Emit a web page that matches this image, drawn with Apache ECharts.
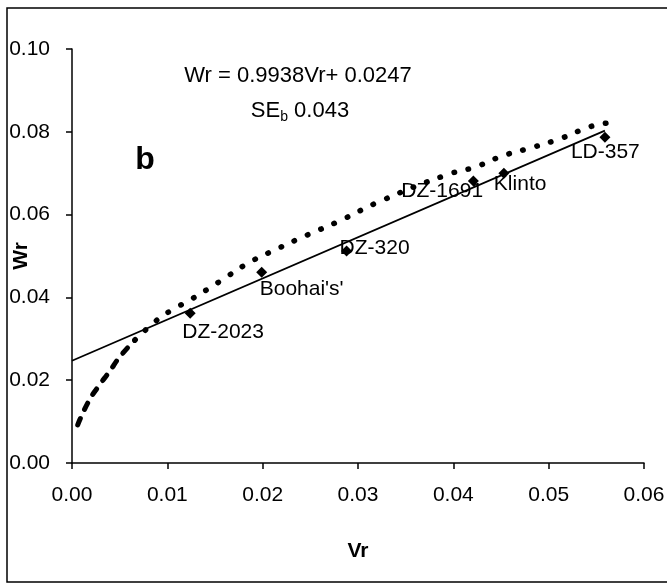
<!DOCTYPE html>
<html>
<head>
<meta charset="utf-8">
<script src="https://cdn.jsdelivr.net/npm/echarts@6/dist/echarts.min.js"></script>
<style>
  html, body { margin: 0; background: #fff; }
  #chart { width: 667px; height: 585px; }
</style>
</head>
<body>
<div id="chart"></div>
<script>
  // cultivars and their (Vr, Wr) values
  var cultivars = ['DZ-2023', "Boohai's'", 'DZ-320', 'DZ-1691', 'Klinto', 'LD-357']
  var vrValues = [0.0124, 0.0199, 0.0288, 0.0421, 0.0453, 0.0559]
  var wrValues = [0.0362, 0.0461, 0.0512, 0.0681, 0.0700, 0.0787]

  // regression line Wr = 0.9938Vr + 0.0247, end points
  var regVr = [0, 0.0559]
  var regWr = [0.0247, 0.0803]

  // limiting parabola (dotted curve)
  var curveVr = [0.0006, 0.0017, 0.0028, 0.0039, 0.0050, 0.0066, 0.0089, 0.0105, 0.0124, 0.0154,
    0.0185, 0.0215, 0.0247, 0.0278, 0.0326, 0.0393, 0.0423, 0.0452, 0.0484, 0.0514, 0.0543, 0.0561]
  var curveWr = [0.0092, 0.0147, 0.0186, 0.0220, 0.0256, 0.0297, 0.0345, 0.0370, 0.0394, 0.0437,
    0.0483, 0.0517, 0.0551, 0.0582, 0.0635, 0.0696, 0.0715, 0.0742, 0.0763, 0.0785, 0.0812, 0.0821]
  var curveSplit = 6 // first points are drawn as heavy dashes

  var xTicks = ['0.00', '0.01', '0.02', '0.03', '0.04', '0.05', '0.06']
  var yTicks = ['0.00', '0.02', '0.04', '0.06', '0.08', '0.10']

  // label placement relative to each point (px)
  var labelShift = [[-8, 19], [-2, 17], [-7, -3], [-72, 10], [-10, 11], [-34, 15]]

  var font = 'Liberation Sans, Arial, sans-serif'
  var chart = echarts.init(document.getElementById('chart'))

  function pairs(xs, ys) {
    return xs.map(function (x, i) { return [x, ys[i]] })
  }

  var points = vrValues.map(function (v, i) {
    var sym = 11
    return {
      value: [v, wrValues[i]],
      name: cultivars[i],
      label: {
        show: true,
        formatter: cultivars[i],
        position: [labelShift[i][0] + sym / 2, labelShift[i][1] + sym / 2],
        align: 'left',
        verticalAlign: 'middle',
        fontFamily: font,
        fontSize: 21,
        color: '#000'
      }
    }
  })

  var curve = pairs(curveVr, curveWr)

  chart.setOption({
    backgroundColor: '#fff',
    animation: false,
    grid: {
      left: 72,
      top: 49,
      right: 23,
      bottom: 122,
      containLabel: false,
      outerBoundsMode: 'none'
    },
    xAxis: {
      type: 'value',
      min: 0,
      max: 0.06,
      interval: 0.01,
      name: 'Vr',
      nameLocation: 'middle',
      nameGap: 78,
      nameMoveOverlap: false,
      nameTextStyle: { fontFamily: font, fontSize: 21, fontWeight: 'bold', color: '#000' },
      axisLine: { show: true, onZero: false, lineStyle: { color: '#000', width: 1.5 } },
      axisTick: { show: true, inside: false, length: 6, lineStyle: { color: '#000', width: 1.5 } },
      axisLabel: {
        margin: 22,
        fontFamily: font,
        fontSize: 21,
        color: '#000',
        formatter: function (v) { return xTicks[Math.round(v / 0.01)] }
      },
      splitLine: { show: false }
    },
    yAxis: {
      type: 'value',
      min: 0,
      max: 0.1,
      interval: 0.02,
      name: 'Wr',
      nameLocation: 'middle',
      nameGap: 40,
      nameRotate: 90,
      nameMoveOverlap: false,
      nameTextStyle: { fontFamily: font, fontSize: 21, fontWeight: 'bold', color: '#000' },
      axisLine: { show: true, onZero: false, lineStyle: { color: '#000', width: 1.5 } },
      axisTick: { show: true, inside: false, length: 6, lineStyle: { color: '#000', width: 1.5 } },
      axisLabel: {
        margin: 22,
        fontFamily: font,
        fontSize: 21,
        color: '#000',
        formatter: function (v) { return yTicks[Math.round(v / 0.02)] }
      },
      splitLine: { show: false }
    },
    graphic: [
      {
        type: 'rect',
        shape: { x: 7, y: 8, width: 700, height: 574 },
        style: { fill: 'none', stroke: '#000', lineWidth: 1.5 },
        silent: true
      },
      {
        type: 'text',
        x: 298,
        y: 76,
        style: {
          text: 'Wr = 0.9938Vr+ 0.0247',
          fontFamily: font,
          fontSize: 22,
          fill: '#000',
          align: 'center',
          verticalAlign: 'middle'
        }
      },
      {
        type: 'text',
        x: 300,
        y: 111,
        style: {
          text: '{n|SE}{s|b}{n| 0.043}',
          align: 'center',
          verticalAlign: 'middle',
          rich: {
            n: { fontFamily: font, fontSize: 22, fill: '#000', color: '#000' },
            s: { fontFamily: font, fontSize: 14, color: '#000', padding: [12, 0, 0, 0] }
          }
        }
      },
      {
        type: 'text',
        x: 145,
        y: 160,
        style: {
          text: 'b',
          fontFamily: font,
          fontSize: 32,
          fontWeight: 'bold',
          fill: '#000',
          align: 'center',
          verticalAlign: 'middle'
        }
      }
    ],
    series: [
      {
        name: 'curve-low',
        type: 'line',
        smooth: true,
        showSymbol: false,
        data: curve.slice(0, curveSplit),
        lineStyle: { color: '#000', width: 5, type: [7, 10], cap: 'round' },
        z: 2
      },
      {
        name: 'curve',
        type: 'line',
        smooth: true,
        showSymbol: false,
        data: curve.slice(curveSplit - 1),
        lineStyle: { color: '#000', width: 5.5, type: [0.5, 14], cap: 'round' },
        z: 2
      },
      {
        name: 'regression',
        type: 'line',
        showSymbol: false,
        data: pairs(regVr, regWr),
        lineStyle: { color: '#000', width: 1.8 },
        z: 3
      },
      {
        name: 'cultivars',
        type: 'scatter',
        symbol: 'diamond',
        symbolSize: 11,
        itemStyle: { color: '#000', opacity: 1 },
        data: points,
        z: 4
      }
    ]
  })
</script>
</body>
</html>
